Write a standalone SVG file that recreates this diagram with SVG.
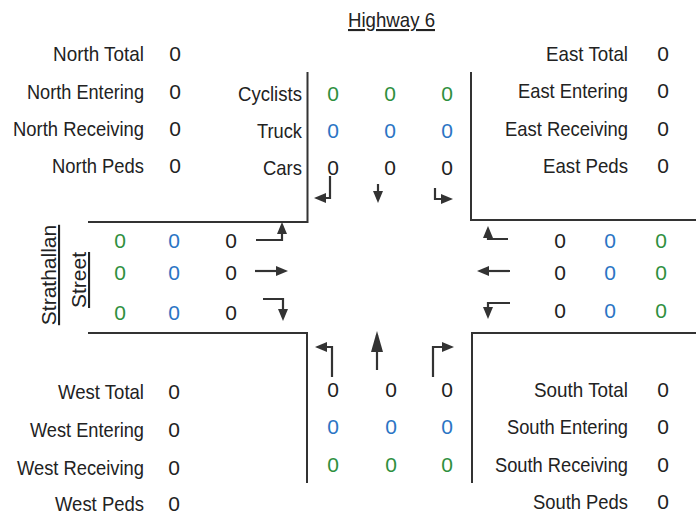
<svg xmlns="http://www.w3.org/2000/svg" width="696" height="518" viewBox="0 0 696 518">
<style>
text{font-family:"Liberation Sans",Arial,sans-serif;font-size:21px;fill:#222}
.n{text-anchor:middle}
.g{fill:#2f8f3e}
.b{fill:#2b74c4}
.road{fill:none;stroke:#333;stroke-width:2}
.arr{fill:none;stroke:#333;stroke-width:2.2;marker-end:url(#ah)}
.big{fill:none;stroke:#333;stroke-width:2.2;marker-end:url(#ahb)}
.u{text-decoration:underline}
</style>
<defs>
<marker id="ah" markerUnits="userSpaceOnUse" markerWidth="12" markerHeight="10" refX="8" refY="5" orient="auto"><path d="M0,0 L12,5 L0,10 z" fill="#333"/></marker>
<marker id="ahb" markerUnits="userSpaceOnUse" markerWidth="21" markerHeight="12" refX="17" refY="6" orient="auto"><path d="M0,0 L21,6 L0,12 z" fill="#333"/></marker>
</defs>
<rect width="696" height="518" fill="#fff"/>

<g id="title">
<text class="u" x="348" y="27" textLength="87" lengthAdjust="spacingAndGlyphs">Highway 6</text>
<text class="u" transform="translate(56,275) rotate(-90)" text-anchor="middle">Strathallan</text>
<text class="u" transform="translate(86,280) rotate(-90)" text-anchor="middle">Street</text>
</g>

<g id="north-summary">
<text x="53" y="61" textLength="91" lengthAdjust="spacingAndGlyphs">North Total</text>
<text x="27" y="99" textLength="117" lengthAdjust="spacingAndGlyphs">North Entering</text>
<text x="13" y="136" textLength="131" lengthAdjust="spacingAndGlyphs">North Receiving</text>
<text x="52" y="173" textLength="92" lengthAdjust="spacingAndGlyphs">North Peds</text>
<text class="n" x="175" y="61">0</text>
<text class="n" x="175" y="99">0</text>
<text class="n" x="175" y="136">0</text>
<text class="n" x="175" y="173">0</text>
</g>

<g id="east-summary">
<text x="546" y="61" textLength="82" lengthAdjust="spacingAndGlyphs">East Total</text>
<text x="518" y="98" textLength="110" lengthAdjust="spacingAndGlyphs">East Entering</text>
<text x="505" y="136" textLength="123" lengthAdjust="spacingAndGlyphs">East Receiving</text>
<text x="543" y="173" textLength="85" lengthAdjust="spacingAndGlyphs">East Peds</text>
<text class="n" x="663" y="61">0</text>
<text class="n" x="663" y="98">0</text>
<text class="n" x="663" y="136">0</text>
<text class="n" x="663" y="173">0</text>
</g>

<g id="west-summary">
<text x="58" y="399" textLength="86" lengthAdjust="spacingAndGlyphs">West Total</text>
<text x="30" y="437" textLength="114" lengthAdjust="spacingAndGlyphs">West Entering</text>
<text x="17" y="475" textLength="127" lengthAdjust="spacingAndGlyphs">West Receiving</text>
<text x="55" y="511" textLength="89" lengthAdjust="spacingAndGlyphs">West Peds</text>
<text class="n" x="174" y="399">0</text>
<text class="n" x="174" y="437">0</text>
<text class="n" x="174" y="475">0</text>
<text class="n" x="174" y="511">0</text>
</g>

<g id="south-summary">
<text x="534" y="397" textLength="94" lengthAdjust="spacingAndGlyphs">South Total</text>
<text x="507" y="434" textLength="121" lengthAdjust="spacingAndGlyphs">South Entering</text>
<text x="495" y="472" textLength="133" lengthAdjust="spacingAndGlyphs">South Receiving</text>
<text x="533" y="509" textLength="95" lengthAdjust="spacingAndGlyphs">South Peds</text>
<text class="n" x="663" y="397">0</text>
<text class="n" x="663" y="434">0</text>
<text class="n" x="663" y="472">0</text>
<text class="n" x="663" y="509">0</text>
</g>

<g id="north-approach">
<text x="238" y="101" textLength="64" lengthAdjust="spacingAndGlyphs">Cyclists</text>
<text x="257" y="138" textLength="45" lengthAdjust="spacingAndGlyphs">Truck</text>
<text x="263" y="175" textLength="39" lengthAdjust="spacingAndGlyphs">Cars</text>
<text class="n g" x="333" y="101">0</text><text class="n g" x="390" y="101">0</text><text class="n g" x="447" y="101">0</text>
<text class="n b" x="333" y="138">0</text><text class="n b" x="390" y="138">0</text><text class="n b" x="447" y="138">0</text>
<text class="n" x="333" y="175">0</text><text class="n" x="390" y="175">0</text><text class="n" x="447" y="175">0</text>
</g>

<g id="west-approach">
<text class="n g" x="120" y="248">0</text><text class="n b" x="174" y="248">0</text><text class="n" x="231" y="248">0</text>
<text class="n g" x="120" y="280">0</text><text class="n b" x="174" y="280">0</text><text class="n" x="231" y="280">0</text>
<text class="n g" x="120" y="320">0</text><text class="n b" x="174" y="320">0</text><text class="n" x="231" y="320">0</text>
</g>

<g id="east-approach">
<text class="n" x="560" y="248">0</text><text class="n b" x="610" y="248">0</text><text class="n g" x="661" y="248">0</text>
<text class="n" x="560" y="280">0</text><text class="n b" x="610" y="280">0</text><text class="n g" x="661" y="280">0</text>
<text class="n" x="560" y="318">0</text><text class="n b" x="610" y="318">0</text><text class="n g" x="661" y="318">0</text>
</g>

<g id="south-approach">
<text class="n" x="333" y="397">0</text><text class="n" x="391" y="397">0</text><text class="n" x="447" y="397">0</text>
<text class="n b" x="333" y="434">0</text><text class="n b" x="391" y="434">0</text><text class="n b" x="447" y="434">0</text>
<text class="n g" x="333" y="472">0</text><text class="n g" x="391" y="472">0</text><text class="n g" x="447" y="472">0</text>
</g>

<g id="connectors">
<polyline class="road" points="88,222 307.5,222 307.5,72"/>
<polyline class="road" points="471,72 471,220 696,220"/>
<polyline class="road" points="88,333 307,333 307,483"/>
<polyline class="road" points="472,483 472,333 696,333"/>

<path class="arr" d="M330,176 L330,198 L318,198"/>
<path class="arr" d="M378,184 L378,199"/>
<path class="arr" d="M435,188 L435,199 L449,199"/>

<path class="arr" d="M256,240 L282,240 L282,226"/>
<path class="arr" d="M255,271 L284,271"/>
<path class="arr" d="M263,299 L283,299 L283,317"/>

<path class="arr" d="M508,239 L488,239 L488,230"/>
<path class="arr" d="M510,271 L481,271"/>
<path class="arr" d="M510,303 L488,303 L488,315"/>

<path class="arr" d="M332,377 L332,347 L319,347"/>
<path class="big" d="M377,370 L377,335"/>
<path class="arr" d="M433,377 L433,347 L450,347"/>
</g>
</svg>
